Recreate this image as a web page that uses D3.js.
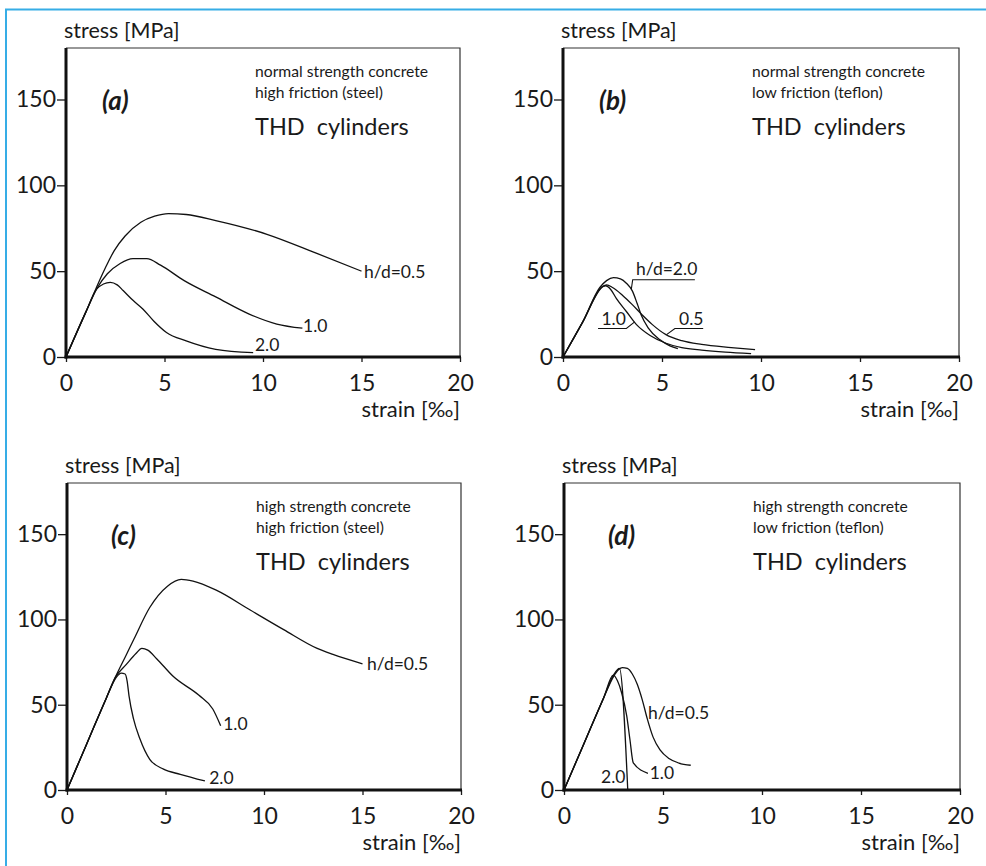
<!DOCTYPE html>
<html>
<head>
<meta charset="utf-8">
<script src="https://cdn.jsdelivr.net/npm/d3@7"></script>
<style>
  body { margin: 0; background: #fff; }
  svg text { font-family: Lato, "Open Sans", sans-serif; fill: #1a1a1a; }
</style>
</head>
<body>
<svg id="chart" width="986" height="866"></svg>
<script>
// ---- axis values ----
const strainTicks = [0, 5, 10, 15, 20];
const stressTicks = [0, 50, 100, 150];
const strainDomain = [0, 20];
const stressDomain = [0, 180];

// ---- panel captions ----
const panelLetters = ["(a)", "(b)", "(c)", "(d)"];
const concreteTypes = ["normal strength concrete", "normal strength concrete", "high strength concrete", "high strength concrete"];
const frictionTypes = ["high friction (steel)", "low friction (teflon)", "high friction (steel)", "low friction (teflon)"];
const specimenTitle = "THD  cylinders";
const stressLabel = "stress [MPa]";
const strainLabel = "strain [‰]";

// ---- stress-strain curves [strain ‰, stress MPa] ----
// (a) normal strength, steel platens
const a_hd05 = [[0,0],[1,26],[2,52],[2.45,62],[3,70.5],[3.8,78.5],[4.5,82],[5.2,83.5],[6.1,83],[7.6,79.5],[10.2,71.5],[12.7,60.5],[15,50]];
const a_hd10 = [[0,0],[1,26],[1.6,40.5],[2.1,48.5],[2.75,54.5],[3.4,57.3],[4.1,57.3],[4.8,53.5],[6,44.5],[7.6,35],[9.3,25],[10.7,19.2],[12,16.8]];
const a_hd20 = [[0,0],[1,26],[1.55,39.5],[1.9,42.5],[2.25,43.5],[2.6,42],[2.9,38.7],[3.4,33],[3.9,28],[4.45,21],[5.1,14.3],[6.1,9.4],[7.6,4.5],[9.5,2.5]];
// (b) normal strength, teflon platens
const b_hd05 = [[0,0],[1,20.5],[2,41],[2.2,42],[2.5,40.5],[3,36],[3.5,30.5],[4,24.5],[4.5,19],[5.2,13],[6,9.5],[7,7.3],[8.5,5.5],[9.7,4.3]];
const b_hd10 = [[0,0],[1,20.5],[2,41],[2.15,41.5],[2.4,39.5],[2.7,34],[3.2,26.5],[3.7,19],[4.4,12.5],[5.2,8],[6,5.5],[7,4],[8.2,2.8],[9.5,2]];
const b_hd20 = [[0,0],[1,20.5],[1.86,40.5],[2.2,44.5],[2.55,46.2],[2.9,45.5],[3.2,43],[3.5,38.5],[3.75,31],[3.95,24.5],[4.3,17],[4.9,10],[5.4,6.5],[5.8,4.9]];
// (c) high strength, steel platens
const c_hd05 = [[0,0],[1,27],[2,54],[2.45,66],[3,79],[3.4,88.5],[4.2,107],[5.1,119.5],[5.8,123.5],[6.4,122.5],[7.6,117],[9.3,105.5],[11,94],[12.7,83],[13.5,79.5],[15,74]];
const c_hd10 = [[0,0],[1,27],[2,54],[2.45,66],[3,73.5],[3.5,80],[3.8,83],[4.1,82],[4.55,77],[5.4,66.5],[6.7,55.5],[7.4,47.5],[7.8,37.7]];
const c_hd20 = [[0,0],[1,27],[2,54],[2.5,66],[2.75,68.5],[2.95,68],[3.05,64],[3.15,55],[3.38,41.5],[3.7,30],[4.2,18],[4.9,12.2],[5.75,9.2],[7,5.3]];
// (d) high strength, teflon platens
const d_hd05 = [[0,0],[1,27],[2,54],[2.5,66.5],[2.75,70.5],[2.95,71.8],[3.2,71.3],[3.45,68],[3.7,62],[3.95,53],[4.2,42],[4.5,31],[4.85,23.5],[5.3,18.5],[5.8,15.8],[6.4,14.5]];
const d_hd10 = [[0,0],[1,27],[2,54],[2.49,67.3],[2.7,64],[2.91,57],[3.17,43.3],[3.33,29.6],[3.5,15.9],[4.24,9.8]];
const d_hd20 = [[0,0],[1,27],[2,54],[2.5,67.3],[2.8,71.3],[3.22,0]];

// ---- curve labels, baseline-left position in [strain, stress] ----
const a_labels = [{text:"h/d=0.5", x:15.13, y:46.2}, {text:"1.0", x:12.03, y:14.5}, {text:"2.0", x:9.59, y:3.3}];
const b_labels = [{text:"h/d=2.0", x:3.69, y:47.5}, {text:"1.0", x:1.94, y:18.5}, {text:"0.5", x:5.86, y:18.9}];
const c_labels = [{text:"h/d=0.5", x:15.23, y:70.3}, {text:"1.0", x:7.93, y:34.9}, {text:"2.0", x:7.22, y:3.3}];
const d_labels = [{text:"h/d=0.5", x:4.24, y:41.4}, {text:"1.0", x:4.33, y:6.2}, {text:"2.0", x:1.87, y:4.3}];

// underline + leader polylines for the labels in (b)
const b_leaders = [
  [[3.45,39.5],[3.52,45.0],[6.66,45.0]],
  [[1.77,16.6],[3.2,16.6],[3.62,20.5]],
  [[5.23,13.0],[5.65,16.6],[7.08,16.6]]
];

const panels = [
  { curves:[a_hd05,a_hd10,a_hd20], labels:a_labels, leaders:[], left:66,  top:48,  right:460, bottom:357 },
  { curves:[b_hd05,b_hd10,b_hd20], labels:b_labels, leaders:b_leaders, left:563, top:48,  right:959, bottom:357 },
  { curves:[c_hd05,c_hd10,c_hd20], labels:c_labels, leaders:[], left:67,  top:483, right:461, bottom:790 },
  { curves:[d_hd05,d_hd10,d_hd20], labels:d_labels, leaders:[], left:564, top:483, right:960, bottom:790 }
];

const svg = d3.select("#chart");

// outer page frame (light blue rule along top and left)
svg.append("line").attr("x1", 5).attr("x2", 986).attr("y1", 9.5).attr("y2", 9.5)
  .attr("stroke", "#36ade6").attr("stroke-width", 2);
svg.append("line").attr("x1", 6).attr("x2", 6).attr("y1", 9).attr("y2", 866)
  .attr("stroke", "#36ade6").attr("stroke-width", 2);

panels.forEach((p, i) => {
  const x = d3.scaleLinear().domain(strainDomain).range([p.left, p.right]);
  const y = d3.scaleLinear().domain(stressDomain).range([p.bottom, p.top]);
  const g = svg.append("g");

  // thin frame on top and right
  g.append("path")
    .attr("d", `M${p.left},${p.top}H${p.right}V${p.bottom}`)
    .attr("fill", "none").attr("stroke", "#333").attr("stroke-width", 1.2);

  // y axis
  const ya = g.append("g").attr("transform", `translate(${p.left},0)`)
    .call(d3.axisLeft(y).tickValues(stressTicks).tickSize(9).tickPadding(1).tickFormat(d3.format("d")));
  ya.select(".domain").remove();
  ya.selectAll(".tick line").attr("stroke", "#1a1a1a").attr("stroke-width", 1.3);
  ya.selectAll(".tick text").style("font-size", "23px").attr("fill", "#1a1a1a")
    .style("font-family", "Lato, sans-serif");

  // x axis
  const xa = g.append("g").attr("transform", `translate(0,${p.bottom})`)
    .call(d3.axisBottom(x).tickValues(strainTicks).tickSize(5).tickPadding(13).tickFormat(d3.format("d")));
  xa.select(".domain").remove();
  xa.selectAll(".tick line").attr("stroke", "#1a1a1a").attr("stroke-width", 1.3);
  xa.selectAll(".tick text").style("font-size", "23px").attr("fill", "#1a1a1a")
    .style("font-family", "Lato, sans-serif");

  // heavy left and bottom axis lines
  g.append("line").attr("x1", p.left).attr("x2", p.left).attr("y1", p.top).attr("y2", p.bottom + 1.5)
    .attr("stroke", "#111").attr("stroke-width", 3);
  g.append("line").attr("x1", p.left - 1.5).attr("x2", p.right + 1).attr("y1", p.bottom).attr("y2", p.bottom)
    .attr("stroke", "#111").attr("stroke-width", 3);

  // axis titles
  g.append("text").attr("x", p.left - 2).attr("y", p.top - 10)
    .style("font-size", "21.5px").text(stressLabel);
  g.append("text").attr("x", p.right).attr("y", p.bottom + 60)
    .attr("text-anchor", "end").style("font-size", "22px").text(strainLabel);

  // panel letter and captions
  g.append("text").attr("x", p.left + 36 + (i >= 2 ? 8 : 0)).attr("y", p.top + 62)
    .style("font-size", "26px").style("font-weight", "bold").style("font-style", "italic")
    .text(panelLetters[i]);
  g.append("text").attr("x", p.left + 189).attr("y", p.top + 29)
    .style("font-size", "15.7px").text(concreteTypes[i]);
  g.append("text").attr("x", p.left + 189).attr("y", p.top + 50)
    .style("font-size", "15.7px").text(frictionTypes[i]);
  g.append("text").attr("x", p.left + 189).attr("y", p.top + 87)
    .style("font-size", "23.5px").attr("xml:space", "preserve").style("white-space", "pre").text(specimenTitle);

  // curves
  const line = d3.line().x(d => x(d[0])).y(d => y(d[1])).curve(d3.curveMonotoneX);
  g.selectAll("path.curve").data(p.curves).join("path")
    .attr("class", "curve")
    .attr("d", line)
    .attr("fill", "none").attr("stroke", "#111").attr("stroke-width", 1.3)
    .attr("stroke-linejoin", "round");

  // label leaders
  const leader = d3.line().x(d => x(d[0])).y(d => y(d[1]));
  g.selectAll("path.leader").data(p.leaders).join("path")
    .attr("class", "leader").attr("d", leader)
    .attr("fill", "none").attr("stroke", "#111").attr("stroke-width", 1.1);

  // curve labels
  g.selectAll("text.clabel").data(p.labels).join("text")
    .attr("class", "clabel")
    .attr("x", d => x(d.x)).attr("y", d => y(d.y))
    .style("font-size", "17.5px").text(d => d.text);
});
</script>
</body>
</html>
